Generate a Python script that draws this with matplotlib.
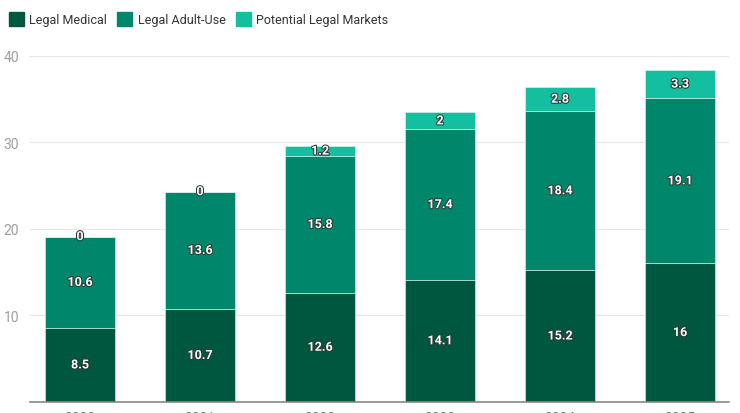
import matplotlib.pyplot as plt
import matplotlib.patheffects as pe
from matplotlib.patches import Patch

plt.rcParams['font.family'] = ['Roboto', 'DejaVu Sans']

years = ['2020', '2021', '2022', '2023', '2024', '2025']
legal_medical = [8.5, 10.7, 12.6, 14.1, 15.2, 16]
legal_adult_use = [10.6, 13.6, 15.8, 17.4, 18.4, 19.1]
potential_legal = [0, 0, 1.2, 2, 2.8, 3.3]

series_names = ['Legal Medical', 'Legal Adult-Use', 'Potential Legal Markets']
colors = ['#00573F', '#00876B', '#13BF9F']

W, H = 740, 414
fig = plt.figure(figsize=(W / 100, H / 100), dpi=100)
ax = fig.add_axes([30 / W, (H - 402.7) / H, 699 / W, 345.7 / H])

x = list(range(len(years)))
bw = 0.583
bottom = [0] * len(years)
label_fx = [pe.withStroke(linewidth=1.5, foreground='#2a3a35')]
for vals, col in zip([legal_medical, legal_adult_use, potential_legal], colors):
    ax.bar(x, vals, bw, bottom=bottom, color=col, edgecolor='#e8f2ee', linewidth=0.4, zorder=3)
    for xi, v, b in zip(x, vals, bottom):
        ax.text(xi, b + v / 2, f'{v:g}', ha='center', va='center', color='white',
                fontsize=9, fontweight='bold', path_effects=label_fx, zorder=4)
    bottom = [b + v for b, v in zip(bottom, vals)]

ax.set_xlim(-0.417, 5.408)
ax.set_ylim(0, 40)
ax.set_yticks([10, 20, 30, 40])
ax.set_xticks(x)
ax.set_xticklabels(years)
ax.tick_params(axis='y', length=0, pad=8, labelsize=10, labelcolor='#9e9e9e')
ax.tick_params(axis='x', length=0, pad=7, labelsize=10, labelcolor='#757575')
ax.grid(axis='y', color='#e6e6e6', linewidth=0.8, zorder=0)
for s in ['top', 'right', 'left']:
    ax.spines[s].set_visible(False)
ax.spines['bottom'].set_color('#888888')
ax.spines['bottom'].set_linewidth(1.2)
ax.spines['bottom'].set_zorder(5)

handles = [Patch(facecolor=c, edgecolor=c) for c in colors]
fig.legend(handles, series_names, loc='upper left', bbox_to_anchor=(0.0, 1 - 4 / H),
           ncol=3, frameon=False, fontsize=9, labelcolor='#333333',
           handlelength=1.2, handleheight=1.4, handletextpad=0.45, columnspacing=0.8,
           borderaxespad=0.3)

fig.savefig('out.png', dpi=100)
